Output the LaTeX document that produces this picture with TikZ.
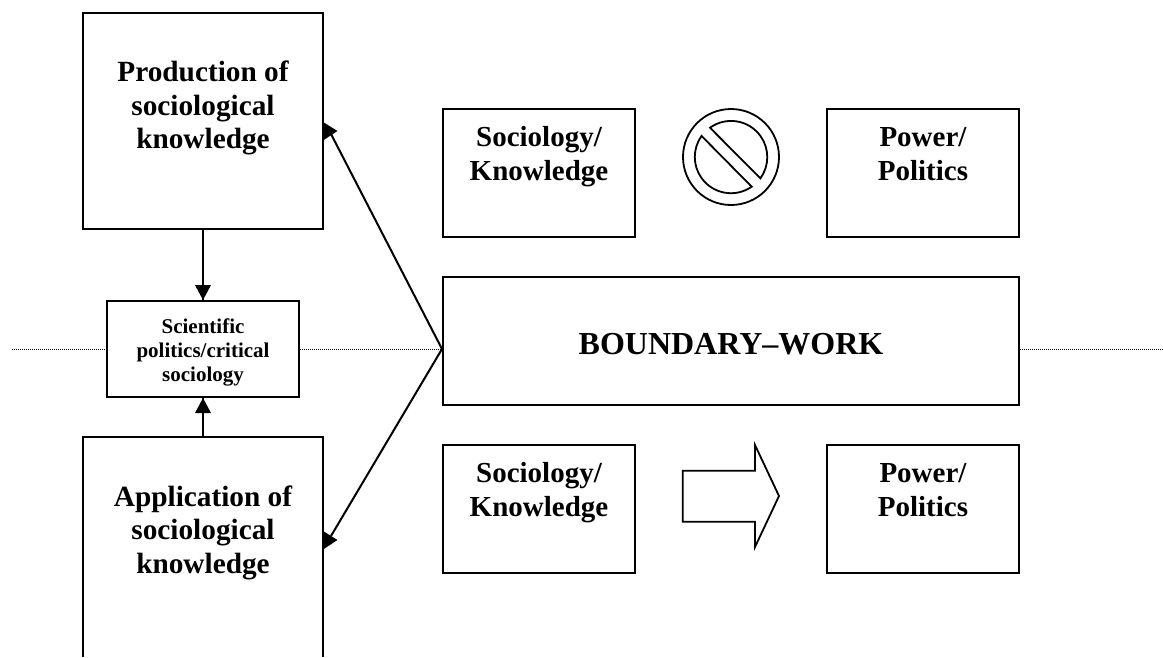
\documentclass[tikz,border=0pt]{standalone}
\usepackage{fontspec}
\setmainfont{Liberation Serif}
\usetikzlibrary{calc}
\tikzset{
  box/.style={draw=black,line width=2pt,rectangle,inner sep=0pt,align=center},
  bigbox/.style={box,minimum width=240pt},
  medbox/.style={box,minimum width=192pt,minimum height=128pt},
  bigtxt/.style={inner sep=0pt,align=center,font=\fontsize{29.3}{33.5}\selectfont\bfseries},
  medtxt/.style={inner sep=0pt,align=center,font=\fontsize{29}{34}\selectfont\bfseries},
  scitxt/.style={inner sep=0pt,align=center,font=\fontsize{21}{24}\selectfont\bfseries},
  bwtxt/.style={inner sep=0pt,align=center,font=\fontsize{32}{36}\selectfont\bfseries},
  conn/.style={draw=black,line width=2pt},
  headfill/.style={fill=black,draw=none},
  dotline/.style={draw=black,line width=0.8pt,dash pattern=on 1pt off 1pt},
  shapeline/.style={draw=black,line width=1.8pt,line join=miter},
}
\begin{document}
\begin{tikzpicture}[x=1pt,y=-1pt]
\useasboundingbox (0,0) rectangle (1163,657);
% dotted axis
\coordinate (dl) at (12,349);
\coordinate (dr) at (1163,349);
\node[bigbox,minimum height=216pt] (prod) at (203,121) {};
\node[bigtxt] (prodt) at (203,108.3) {Production of\\sociological\\knowledge};
\node[box,minimum width=192pt,minimum height=96pt] (sci) at (203,349) {};
\node[scitxt] (scit) at (203,352) {Scientific\\politics/critical\\sociology};
\node[medbox] (s1) at (539,173) {};
\node[medtxt] (s1t) at (539,156.7) {Sociology/\\Knowledge};
\node[medbox] (p1) at (923,173) {};
\node[medtxt] (p1t) at (923,153.7) {Power/\\Politics};
\node[medbox,minimum width=576pt] (bw) at (731,341) {};
\node[bwtxt] (bwt) at (731,344.5) {BOUNDARY–WORK};
\node[medbox] (s2) at (539,509) {};
\node[medtxt] (s2t) at (539,492.7) {Sociology/\\Knowledge};
\node[medbox] (p2) at (923,509) {};
\node[medtxt] (p2t) at (923,489.7) {Power/\\Politics};
% application box runs off the page
\coordinate (aTL) at (83,437);
\coordinate (aTR) at (323,437);
\coordinate (aT) at (203,437);
\draw[conn] (83,657) -- (aTL) -- (aTR) -- (323,657);
\node[bigtxt] (app) at (203,532.6) {Application of\\sociological\\knowledge};
\draw[dotline] (dl) -- (sci.west);
\draw[dotline] (sci.east) -- (bw.west |- sci.east);
\draw[dotline] (bw.east |- sci.east) -- (dr);
% vertical arrows
\draw[conn] (prod.south) -- (sci.north);
\fill[headfill] (195,285) -- (211,285) -- (sci.north) -- cycle;
\draw[conn] (aT) -- (sci.south);
\fill[headfill] (195,413) -- (211,413) -- (sci.south) -- cycle;
% diagonal arrows
\coordinate (hub) at (bw.west |- sci.east);
\coordinate (pt) at (331,134);
\coordinate (at) at (331,536);
\draw[conn] (hub) -- (pt);
\draw[conn] (hub) -- (at);
\fill[headfill] (323,122) -- (337.5,131) -- (323,140.5) -- cycle;
\fill[headfill] (323,531) -- (337.5,540) -- (323,549.5) -- cycle;
% prohibition sign
\coordinate (nc) at (731,157);
\draw[shapeline] (nc) circle[radius=48];
\draw[shapeline] ($(nc)+(-21,-29.3)$) arc[start angle=-125.6,end angle=35.9,radius=36.2] -- cycle;
\draw[shapeline] ($(nc)+(20.7,29.7)$) arc[start angle=55.1,end angle=215.6,radius=36.2] -- cycle;
% block arrow
\draw[shapeline] (682.7,470.7) -- (755,470.7) -- (755,445) -- (779,496) -- (755,547) -- (755,521.7) -- (682.7,521.7) -- cycle;
\end{tikzpicture}
\end{document}
